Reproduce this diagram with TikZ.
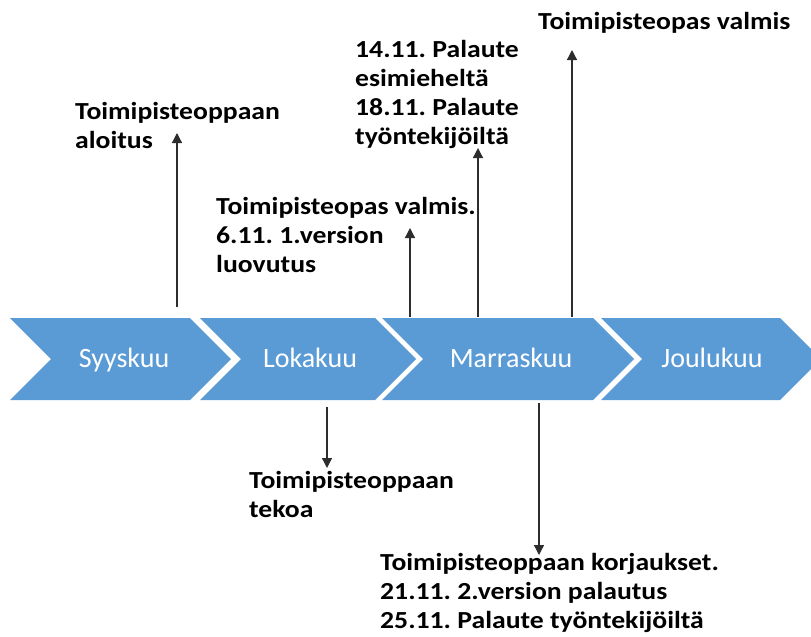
\documentclass[tikz,border=0pt]{standalone}
\usepackage{fontspec}
\setmainfont{Carlito}
\newfontfamily\notefont{Carlito}[FakeStretch=1.13]
\usetikzlibrary{arrows.meta}
\usetikzlibrary{positioning}
\definecolor{chevblue}{RGB}{91,155,213}
\definecolor{darkline}{RGB}{45,45,45}
\frenchspacing

\begin{document}
\begin{tikzpicture}[x=1pt,y=-1pt,every node/.style={inner sep=0pt}]
        \tikzset{month_fill/.style = {fill=chevblue}}
        \tikzset{month_label/.style = {anchor=base,text=white,font=\fontsize{28}{34}\selectfont}}
        \tikzset{note_label/.style = {anchor=north west,align=left,text=black,font=\notefont\bfseries\fontsize{24.5}{29}\selectfont}}
        \tikzset{note_edge/.style = {-{Triangle[length=10pt,width=10pt]},color=darkline,line width=1.3pt}}

        \useasboundingbox (0,0) rectangle (811,637);

        % months
        \fill[month_fill] (10,318) -- (190,318) -- (231,359) -- (190,400) -- (10,400) -- (51,359) -- cycle;
        \fill[month_fill] (200,318) -- (375,318) -- (416,359) -- (375,400) -- (200,400) -- (241,359) -- cycle;
        \fill[month_fill] (382,318) -- (593,318) -- (634,359) -- (593,400) -- (382,400) -- (423,359) -- cycle;
        \fill[month_fill] (601,318) -- (780,318) -- (811,349) -- (811,369) -- (780,400) -- (601,400) -- (642,359) -- cycle;
        \node[month_label] (syyskuu) at (124,367) {Syyskuu};
        \node[month_label] (lokakuu) at (310,367) {Lokakuu};
        \node[month_label] (marraskuu) at (511,367) {Marraskuu};
        \node[month_label] (joulukuu) at (712,367) {Joulukuu};

        % notes
        \node[note_label] (aloitus) at (75,102) {Toimipisteoppaan\\aloitus};
        \node[note_label] (versio1) at (216,197) {Toimipisteopas valmis.\\6.11. 1.version\\luovutus};
        \node[note_label] (palaute) at (355,40) {14.11. Palaute\\esimieheltä\\18.11. Palaute\\työntekijöiltä};
        \node[note_label] (valmis) at (538,12) {Toimipisteopas valmis};
        \node[note_label] (tekoa) at (249,471) {Toimipisteoppaan\\tekoa};
        \node[note_label] (korjaus) at (380,553) {Toimipisteoppaan korjaukset.\\21.11. 2.version palautus\\25.11. Palaute työntekijöiltä};

        % arrows
        \coordinate (aloitus_from) at (177,307);
        \coordinate (aloitus_to) at (177,133);
        \coordinate (versio1_from) at (410,317);
        \coordinate (versio1_to) at (410,228);
        \coordinate (palaute_from) at (478,317);
        \coordinate (palaute_to) at (478,148);
        \coordinate (valmis_from) at (572,317);
        \coordinate (valmis_to) at (572,50);
        \coordinate (tekoa_from) at (327,407);
        \coordinate (tekoa_to) at (327,468);
        \coordinate (korjaus_from) at (539,403);
        \coordinate (korjaus_to) at (539,555);
        \draw[note_edge] (aloitus_from) -- (aloitus_to);
        \draw[note_edge] (versio1_from) -- (versio1_to);
        \draw[note_edge] (palaute_from) -- (palaute_to);
        \draw[note_edge] (valmis_from) -- (valmis_to);
        \draw[note_edge] (tekoa_from) -- (tekoa_to);
        \draw[note_edge] (korjaus_from) -- (korjaus_to);
    \end{tikzpicture}
\end{document}
